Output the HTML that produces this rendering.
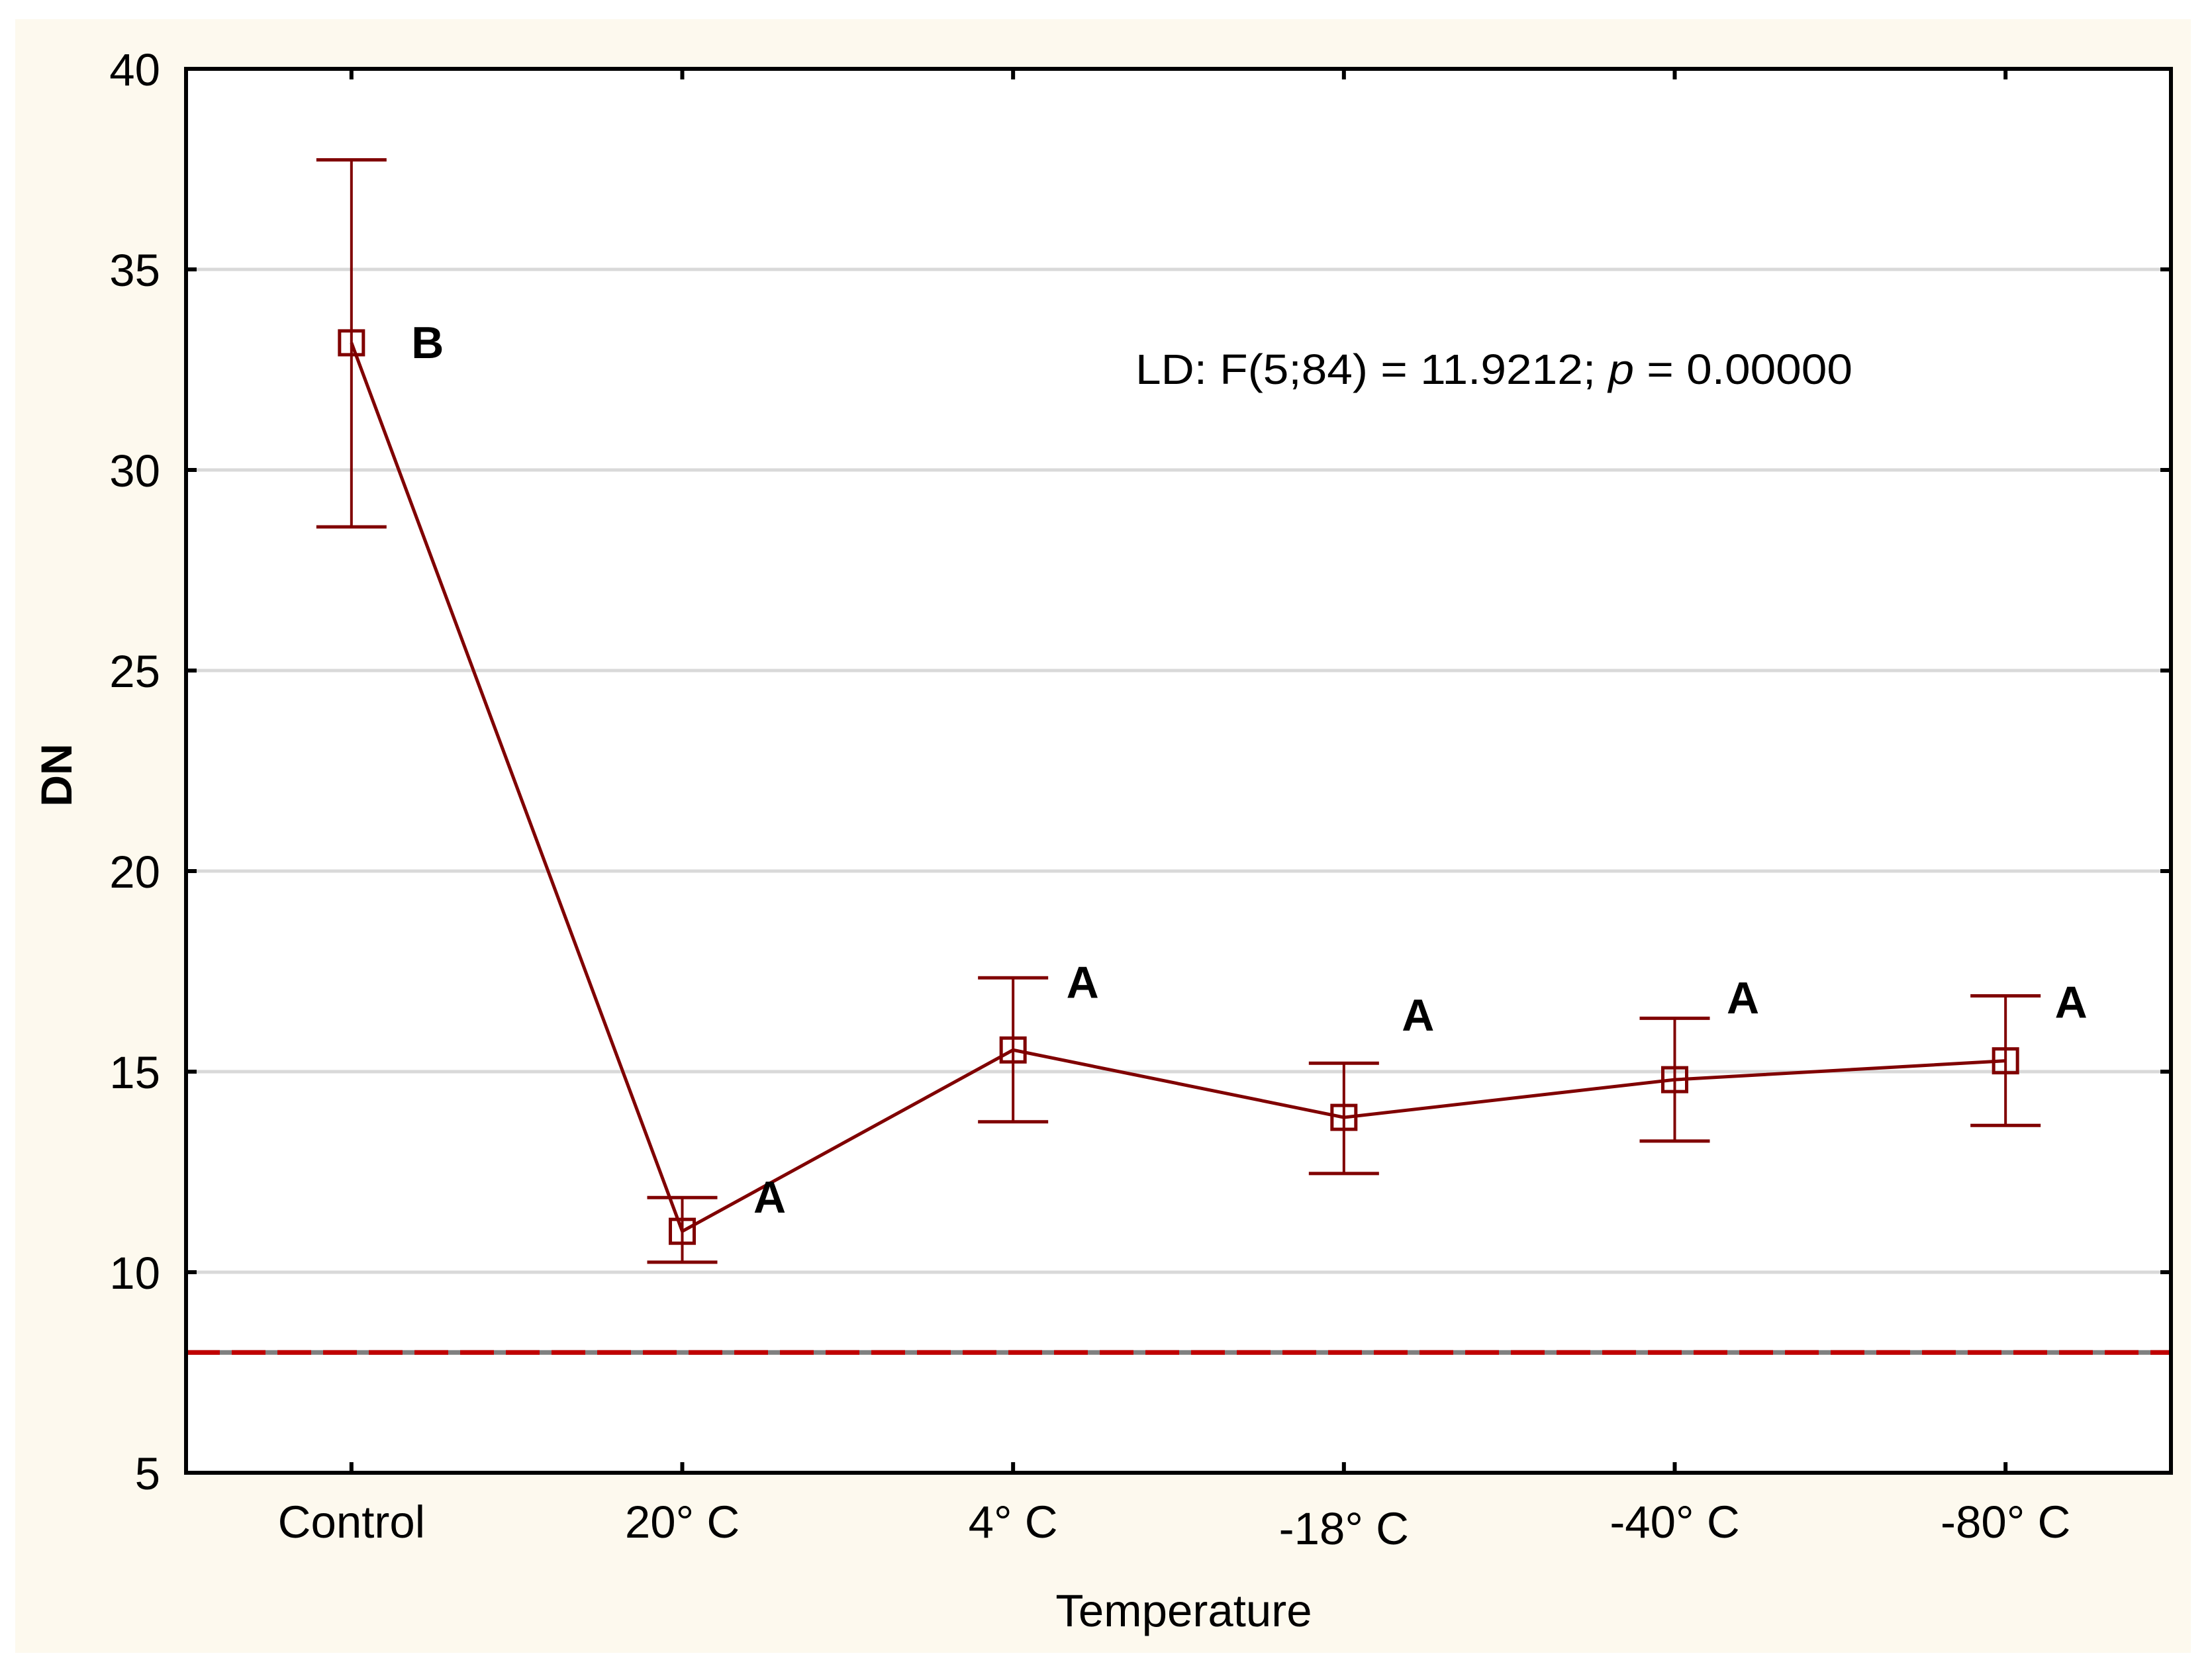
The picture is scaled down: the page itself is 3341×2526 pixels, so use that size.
<!DOCTYPE html>
<html><head><meta charset="utf-8"><style>
html,body{margin:0;padding:0;background:#fff;}
svg{display:block;}
text{font-family:"Liberation Sans",Arial,sans-serif;}
</style></head>
<body>
<svg id="chart" width="3341" height="2526" viewBox="0 0 3341 2526" xmlns="http://www.w3.org/2000/svg">
  <rect x="23" y="29" width="3286" height="2468" fill="#fdf9ee"/>
  <rect x="281" y="104" width="2998" height="2121" fill="#fff"/>
  <g id="grid"></g>
  <g id="refline"></g>
  <g id="series"></g>
  <rect x="281" y="104" width="2998" height="2121" fill="none" stroke="#000" stroke-width="6"/>
  <g id="axes"></g>
  <text x="1715" y="580" font-size="64" textLength="1083" lengthAdjust="spacingAndGlyphs">LD: F(5;84) = 11.9212; <tspan font-style="italic">p</tspan> = 0.00000</text>
  <text x="1788" y="2457" font-size="69" text-anchor="middle">Temperature</text>
  <text x="0" y="0" font-size="66" font-weight="bold" text-anchor="middle" transform="translate(108,1171) rotate(-90)">DN</text>
</svg>
<script>
const categories = ["Control", "20° C", "4° C", "-18° C", "-40° C", "-80° C"];
const means = [33.17, 11.02, 15.54, 13.86, 14.80, 15.27];
const upper = [37.73, 11.86, 17.34, 15.21, 16.33, 16.89];
const lower = [28.58, 10.25, 13.75, 12.46, 13.27, 13.66];
const groupLetters = ["B", "A", "A", "A", "A", "A"];
const yTicks = [5, 10, 15, 20, 25, 30, 35, 40];
const referenceValue = 8;

const NS = "http://www.w3.org/2000/svg";
const L = 281, R = 3279, T = 104, B = 2225;
const yMin = 5, yMax = 40;
function y(v){ return B - (v - yMin) / (yMax - yMin) * (B - T); }
function x(i){ return L + (R - L) / categories.length * (i + 0.5); }
function mk(tag, attrs, parent){
  const e = document.createElementNS(NS, tag);
  for (const k in attrs) e.setAttribute(k, attrs[k]);
  parent.appendChild(e);
  return e;
}
const grid = document.getElementById("grid");
const axes = document.getElementById("axes");
const series = document.getElementById("series");
const refline = document.getElementById("refline");

yTicks.forEach(v => {
  if (v > yMin && v < yMax) {
    const g = mk("line", {x1: L, x2: R, y1: y(v), y2: y(v), stroke: "#d9d9d9", "stroke-width": 5}, grid);
    
    
  }
  const t1 = mk("line", {x1: L, x2: L + 16, y1: y(v), y2: y(v), stroke: "#000", "stroke-width": 6}, axes);
  
  
  const t2 = mk("line", {x1: R - 16, x2: R, y1: y(v), y2: y(v), stroke: "#000", "stroke-width": 6}, axes);
  
  
  const lb = mk("text", {x: 242, y: y(v) + 25, "font-size": 69, "text-anchor": "end"}, axes);
  lb.textContent = v;
  
  
});

const rg = mk("line", {x1: L, x2: R, y1: y(referenceValue), y2: y(referenceValue), stroke: "#808080", "stroke-width": 7}, refline);


const rr = mk("line", {x1: L, x2: R, y1: y(referenceValue), y2: y(referenceValue), stroke: "#c00000", "stroke-width": 7, "stroke-dasharray": "51 18"}, refline);



categories.forEach((c, i) => {
  const tb = mk("line", {x1: x(i), x2: x(i), y1: B, y2: B - 16, stroke: "#000", "stroke-width": 6}, axes);
  
  
  const tt = mk("line", {x1: x(i), x2: x(i), y1: T, y2: T + 16, stroke: "#000", "stroke-width": 6}, axes);
  
  
  const lb = mk("text", {x: x(i), y: 2323 + (i === 3 ? 10 : 0), "font-size": 69, "text-anchor": "middle"}, axes);
  lb.textContent = c;
  
  
});

const pts = means.map((m, i) => x(i) + "," + y(m)).join(" ");
const pl = mk("polyline", {points: pts, fill: "none", stroke: "#800000", "stroke-width": 5}, series);



const letterDx = [115, 132, 105, 112, 103, 99];
const letterDy = [23, -28, -79, -131, -100, -65];
means.forEach((m, i) => {
  const cx = x(i);
  const ev = mk("line", {x1: cx, x2: cx, y1: y(upper[i]), y2: y(lower[i]), stroke: "#800000", "stroke-width": 4}, series);
  
  
  const cu = mk("line", {x1: cx - 53, x2: cx + 53, y1: y(upper[i]), y2: y(upper[i]), stroke: "#800000", "stroke-width": 5}, series);
  
  
  const cl = mk("line", {x1: cx - 53, x2: cx + 53, y1: y(lower[i]), y2: y(lower[i]), stroke: "#800000", "stroke-width": 5}, series);
  
  
  const sq = mk("rect", {x: cx - 18, y: y(m) - 18, width: 36, height: 36, fill: "none", stroke: "#800000", "stroke-width": 5}, series);
  
  
  const lt = mk("text", {x: cx + letterDx[i], y: y(m) + letterDy[i], "font-size": 68, "font-weight": "bold", "text-anchor": "middle"}, series);
  lt.textContent = groupLetters[i];
  
  
});
</script>
</body></html>
